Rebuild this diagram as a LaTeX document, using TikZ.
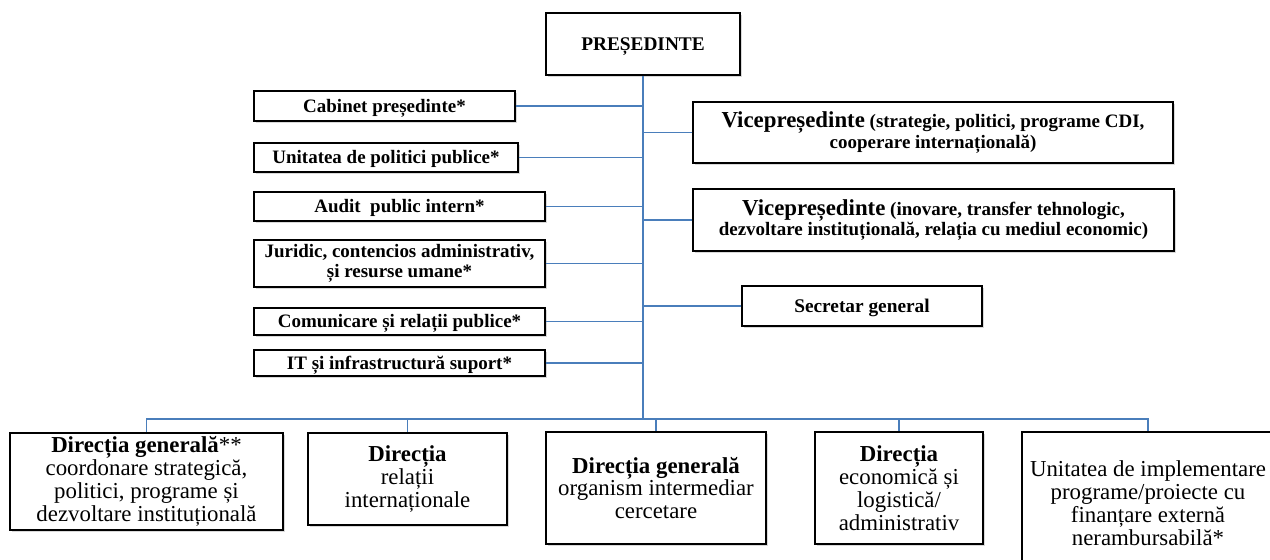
\documentclass[tikz,border=0pt]{standalone}
\usepackage{fontspec}
\setmainfont{Liberation Serif}
\usetikzlibrary{positioning,shadows}
\definecolor{linkblue}{RGB}{74,126,187}

\begin{document}
\begin{tikzpicture}[
    x=0.02cm, y=-0.02cm,
    box/.style={rectangle, draw, thick, fill=white, align=center, inner sep=1pt,
        drop shadow={shadow xshift=1pt, shadow yshift=-1pt, opacity=0.3}},
    sbox/.style={box, font=\bfseries\fontsize{10.8}{11.5}\selectfont},
    oneline/.style={text height=9.6pt, text depth=2.4pt},
    dbox/.style={box, font=\fontsize{13}{13}\selectfont},
    link/.style={draw=linkblue, line width=0.8pt}
]
    \useasboundingbox (0,0) rectangle (1270,559);
    \clip (0,0) rectangle (1270,559);

    \node[box, oneline, font=\bfseries\fontsize{11}{13}\selectfont, minimum width=3.88cm, minimum height=1.24cm] (pres) at (643,44) {PREȘEDINTE};

    % left column
    \node[sbox, oneline, minimum width=5.22cm, minimum height=0.6cm] (cab) at (384.5,106) {Cabinet președinte*};
    \node[sbox, oneline, minimum width=5.28cm, minimum height=0.58cm] (upp) at (386,157.5) {Unitatea de politici publice*};
    \node[sbox, oneline, minimum width=5.82cm, minimum height=0.58cm] (aud) at (399.5,206.5) {Audit\ \ public intern*};
    \node[sbox, minimum width=5.82cm, minimum height=0.94cm] (jur) at (399.5,263.5) {Juridic, contencios administrativ,\\și resurse umane*};
    \node[sbox, oneline, minimum width=5.82cm, minimum height=0.54cm] (com) at (399.5,321.5) {Comunicare și relații publice*};
    \node[sbox, oneline, minimum width=5.82cm, minimum height=0.52cm] (it) at (399.5,363) {IT și infrastructură suport*};

    % right column
    \node[sbox, minimum width=9.6cm, minimum height=1.22cm] (vp1) at (933,132.5) {{\fontsize{13}{13}\selectfont Vicepreședinte} (strategie, politici, programe CDI,\\cooperare internațională)};
    \node[sbox, minimum width=9.62cm, minimum height=1.24cm] (vp2) at (933.5,220) {{\fontsize{13}{13}\selectfont Vicepreședinte} (inovare, transfer tehnologic,\\dezvoltare instituțională, relația cu mediul economic)};
    \node[sbox, oneline, font=\bfseries\fontsize{11}{13}\selectfont, minimum width=4.8cm, minimum height=0.8cm] (sec) at (862,306) {Secretar general};

    % directions
    \node[dbox, minimum width=5.46cm, minimum height=1.94cm] (d1) at (146.5,481.5) {\textbf{Direcția generală}**\\coordonare strategică,\\politici, programe și\\dezvoltare instituțională};
    \node[dbox, minimum width=3.98cm, minimum height=1.84cm] (d2) at (407.5,479) {\textbf{Direcția}\\relații\\internaționale};
    \node[dbox, minimum width=4.4cm, minimum height=2.24cm] (d3) at (656,488) {\textbf{Direcția generală}\\organism intermediar\\cercetare};
    \node[dbox, minimum width=3.36cm, minimum height=2.24cm] (d4) at (899,488) {\textbf{Direcția}\\economică și\\logistică/\\administrativ};
    \node[dbox, minimum width=5.04cm, minimum height=2.84cm] (d5) at (1148,503) {Unitatea de implementare\\programe/proiecte cu\\finanțare externă\\nerambursabilă*};

    \coordinate (bus) at (643,419);
    \draw[link] (pres.south) -- (bus);
    \foreach \n in {cab,upp,aud,jur,com,it}
        \draw[link] (\n.east) -- (\n.east -| pres.south);
    \foreach \n in {vp1,vp2,sec}
        \draw[link] (\n.west) -- (\n.west -| pres.south);
    \foreach \n in {d1,d2,d3,d4,d5}
        \draw[link] (bus) -| (\n.north);
\end{tikzpicture}
\end{document}
